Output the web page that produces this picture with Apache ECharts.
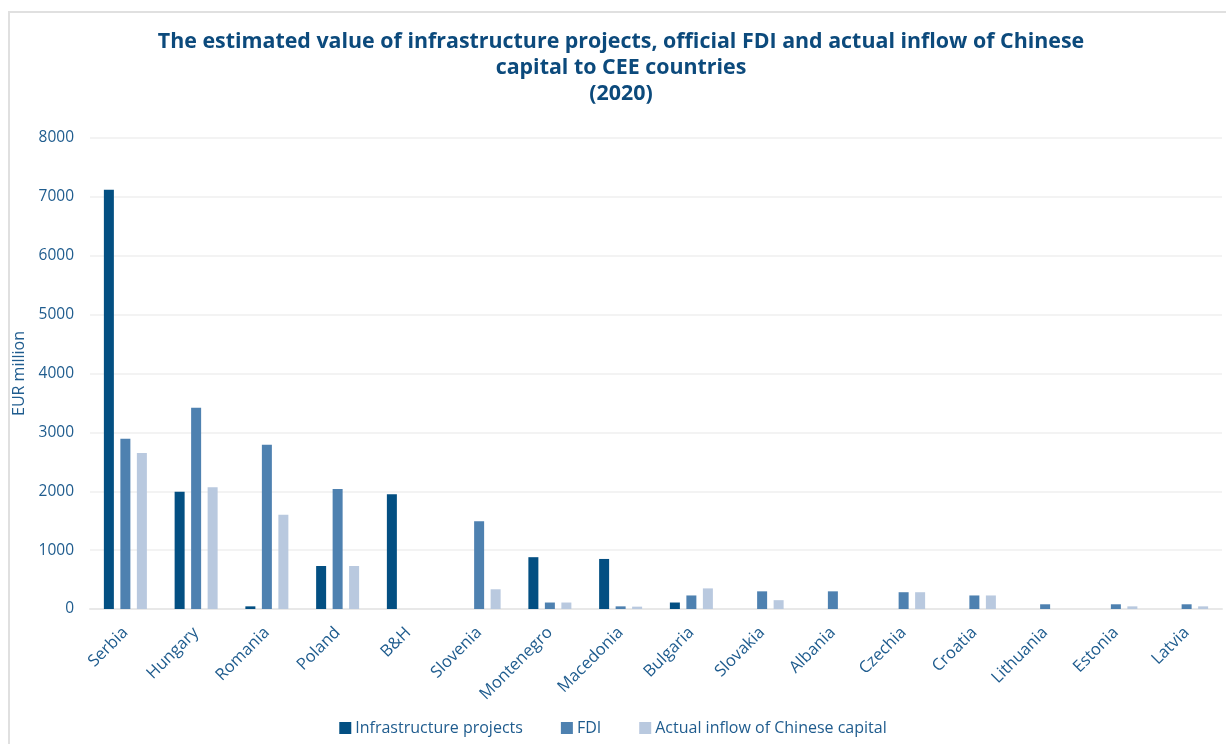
<!DOCTYPE html>
<html>
<head>
<meta charset="utf-8">
<script src="https://cdn.jsdelivr.net/npm/echarts@6/dist/echarts.min.js"></script>
<style>
  html, body { margin: 0; padding: 0; background: #ffffff; overflow: hidden; }
  #frame { position: absolute; left: 8px; top: 11px; width: 1240px; height: 760px; border: 2px solid #e0e0e0; box-sizing: border-box; }
  #chart { position: absolute; left: 0; top: 0; width: 1226px; height: 744px; }
</style>
</head>
<body>
<div id="frame"></div>
<div id="chart"></div>
<script>
const categories = ['Serbia', 'Hungary', 'Romania', 'Poland', 'B&H', 'Slovenia', 'Montenegro', 'Macedonia', 'Bulgaria', 'Slovakia', 'Albania', 'Czechia', 'Croatia', 'Lithuania', 'Estonia', 'Latvia'];
const infrastructureProjects = [7120, 1990, 45, 730, 1950, 0, 880, 850, 110, 0, 0, 0, 0, 0, 0, 0];
const fdi = [2890, 3420, 2790, 2040, 0, 1490, 110, 45, 230, 300, 300, 285, 230, 80, 80, 80];
const actualInflow = [2650, 2070, 1600, 730, 0, 335, 110, 40, 350, 150, 0, 285, 230, 0, 45, 45];
const seriesNames = ['Infrastructure projects', 'FDI', 'Actual inflow of Chinese capital'];
const yTicks = { min: 0, max: 8000, interval: 1000 };

const chart = echarts.init(document.getElementById('chart'), null, { renderer: 'canvas' });
const font = '"Open Sans", "Noto Sans", sans-serif';
const labelColor = '#1f5c8e';
const colors = ['#034f82', '#4e81b0', '#b9c9df'];

function bar(name, data, color) {
  return {
    name: name,
    type: 'bar',
    data: data,
    barWidth: 10,
    barGap: '65%',
    itemStyle: { color: color },
    emphasis: { disabled: true }
  };
}

chart.setOption({
  animation: false,
  textStyle: { fontFamily: font },
  title: {
    text: 'The estimated value of infrastructure projects, official FDI and actual inflow of Chinese\ncapital to CEE countries\n(2020)',
    left: 621,
    textAlign: 'center',
    top: 29,
    padding: 0,
    textStyle: { fontFamily: font, fontSize: 21.4, fontWeight: 'bold', color: '#0c4a7c', lineHeight: 26 }
  },
  legend: {
    bottom: 3,
    left: 'center',
    itemWidth: 12,
    itemHeight: 12,
    itemGap: 38,
    icon: 'rect',
    textStyle: { fontFamily: font, fontSize: 16, color: labelColor, padding: [0, 0, 0, -1] },
    data: seriesNames
  },
  grid: { left: 90, right: 4, top: 138, bottom: 135, containLabel: false },
  xAxis: {
    type: 'category',
    data: categories,
    axisLine: { show: true, lineStyle: { color: '#e8e8e8', width: 2 } },
    axisTick: { show: false },
    axisLabel: { rotate: 45, fontSize: 16.5, color: labelColor, margin: 21, interval: 0, fontFamily: font }
  },
  yAxis: {
    type: 'value',
    min: yTicks.min,
    max: yTicks.max,
    interval: yTicks.interval,
    name: 'EUR million',
    nameLocation: 'middle',
    nameGap: 56,
    nameRotate: 90,
    nameTextStyle: { fontSize: 16, color: labelColor, fontFamily: font },
    axisLine: { show: false },
    axisTick: { show: false },
    splitLine: { lineStyle: { color: '#efefef', width: 1.5 } },
    axisLabel: { fontSize: 15.5, color: labelColor, margin: 16, fontFamily: font, formatter: function (v) { return String(v); } }
  },
  series: [
    bar(seriesNames[0], infrastructureProjects, colors[0]),
    bar(seriesNames[1], fdi, colors[1]),
    bar(seriesNames[2], actualInflow, colors[2])
  ]
});
</script>
</body>
</html>
